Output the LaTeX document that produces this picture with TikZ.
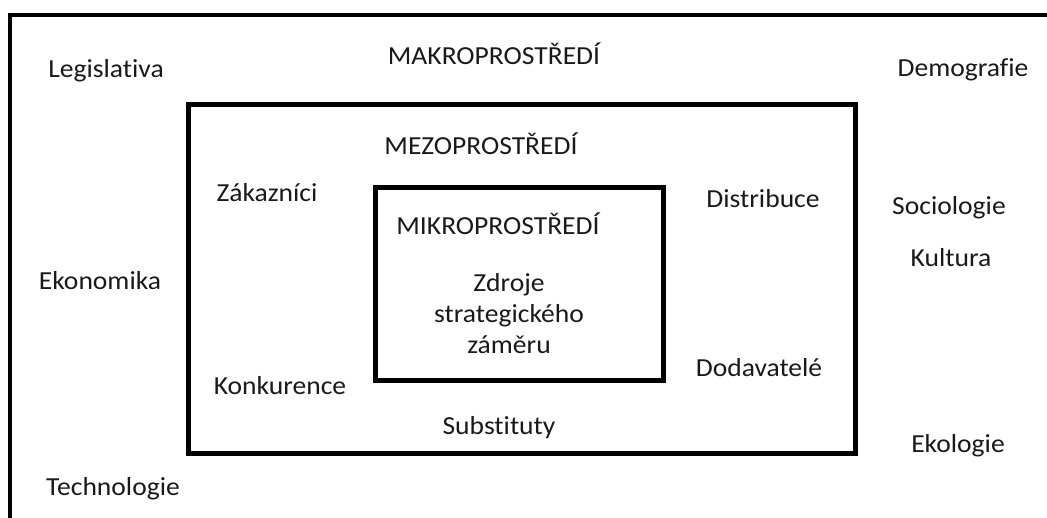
\documentclass[tikz,border=0pt]{standalone}
\usepackage{fontspec}
\setmainfont[FakeStretch=1.06,Ligatures=NoCommon]{Carlito}
\begin{document}
\begin{tikzpicture}[x=1pt,y=-1pt,
  lbl/.style={anchor=base,inner sep=0pt,font=\fontsize{26}{31}\selectfont,text=black!90},
  frame/.style={draw=black,line width=5pt,inner sep=0pt,outer sep=0pt},
  outerline/.style={draw=black,line width=4.5pt,line join=miter}]
\useasboundingbox (0,0) rectangle (1047,518);
\clip (0,0) rectangle (1047,518);
% outer frame (only top and left visible)
\coordinate (ob) at (10,530);
\coordinate (oc) at (10,15);
\coordinate (or) at (1060,15);
\draw[outerline] (ob) -- (oc) -- (or);
% boxes
\node[frame,minimum width=667pt,minimum height=348pt] (meso) at (521.5,279) {};
\node[frame,minimum width=288pt,minimum height=193pt] (mikro) at (519,284.5) {};
% macro labels
\node[lbl] (makro) at (494,65) {MAKROPROSTŘEDÍ};
\node[lbl] (legis) at (106,78) {Legislativa};
\node[lbl] (demo) at (963,77) {Demografie};
\node[lbl] (ekon) at (100,290) {Ekonomika};
\node[lbl] (soc) at (949,215) {Sociologie};
\node[lbl] (kult) at (951,267) {Kultura};
\node[lbl] (ekol) at (958,453) {Ekologie};
\node[lbl] (tech) at (113,495) {Technologie};
% meso labels
\node[lbl] (mezo) at (481,155) {MEZOPROSTŘEDÍ};
\node[lbl] (zak) at (267,202) {Zákazníci};
\node[lbl] (distr) at (763,208) {Distribuce};
\node[lbl] (konk) at (280,395) {Konkurence};
\node[lbl] (dod) at (759,377) {Dodavatelé};
\node[lbl] (subst) at (499,435) {Substituty};
% micro labels
\node[lbl] (mikrol) at (498,235) {MIKROPROSTŘEDÍ};
\node[lbl] (z1) at (509,292) {Zdroje};
\node[lbl] (z2) at (509,323) {strategického};
\node[lbl] (z3) at (509,354) {záměru};
\end{tikzpicture}
\end{document}
